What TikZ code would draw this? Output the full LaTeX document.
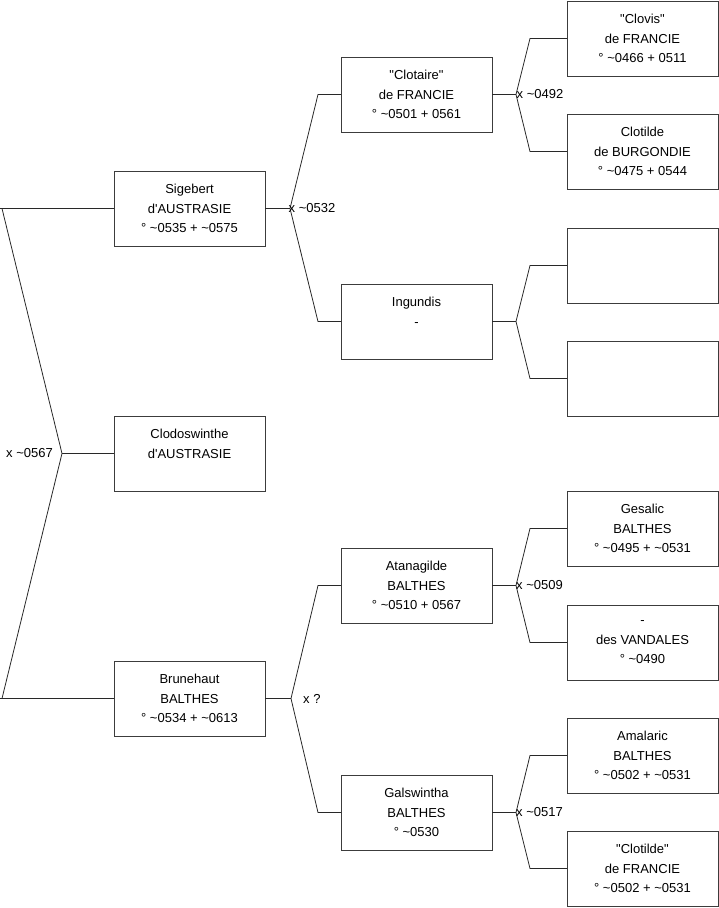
\documentclass[tikz,border=0pt]{standalone}
\usepackage{fontspec}
\setmainfont{Liberation Sans}
\usepackage{xcolor}
\usetikzlibrary{positioning, calc}
\definecolor{boxline}{RGB}{60, 60, 60}
\definecolor{linkline}{RGB}{40, 40, 40}
\newcommand{\dquo}{\textquotedbl}
\newcommand{\apos}{\textquotesingle}
\newcommand{\tld}{\textasciitilde}

\begin{document}
\begin{tikzpicture}[x=1pt, y=-1pt,
    person/.style={rectangle, draw=boxline, fill=white, line width=0.9pt,
                   minimum width=151pt, minimum height=75pt, inner sep=0pt,
                   outer sep=0pt, align=center,
                   font=\fontsize{13}{19.5}\selectfont},
    link/.style={draw=linkline, line width=0.8pt},
    union/.style={font=\fontsize{13}{15}\selectfont, inner sep=0pt, anchor=west}
]
\useasboundingbox (0,0) rectangle (719,908);

% Generation 1
\node[person] (sig)  at (189.5, 208.5) {Sigebert\\d\apos AUSTRASIE\\° \tld0535 + \tld0575};
\node[person] (clod) at (189.5, 453.5) {Clodoswinthe\\d\apos AUSTRASIE\\\mbox{}};
\node[person] (brun) at (189.5, 698.5) {Brunehaut\\BALTHES\\° \tld0534 + \tld0613};

% Generation 2
\node[person] (clot) at (416.5, 94.5)  {\dquo Clotaire\dquo\\de FRANCIE\\° \tld0501 + 0561};
\node[person] (ingu) at (416.5, 321.5) {Ingundis\\-\\\mbox{}};
\node[person] (atan) at (416.5, 585.5) {Atanagilde\\BALTHES\\° \tld0510 + 0567};
\node[person] (gals) at (416.5, 812.5) {Galswintha\\BALTHES\\° \tld0530};

% Generation 3
\node[person] (clov)  at (642.5, 38.5)  {\dquo Clovis\dquo\\de FRANCIE\\° \tld0466 + 0511};
\node[person] (cltb)  at (642.5, 151.5) {Clotilde\\de BURGONDIE\\° \tld0475 + 0544};
\node[person] (unk1)  at (642.5, 265.5) {};
\node[person] (unk2)  at (642.5, 378.5) {};
\node[person] (gesa)  at (642.5, 528.5) {Gesalic\\BALTHES\\° \tld0495 + \tld0531};
\node[person] (vand)  at (642.5, 642.5) {-\\des VANDALES\\° \tld0490};
\node[person] (amal)  at (642.5, 755.5) {Amalaric\\BALTHES\\° \tld0502 + \tld0531};
\node[person] (cltf)  at (642.5, 868.5) {\dquo Clotilde\dquo\\de FRANCIE\\° \tld0502 + \tld0531};

% Junctions
\coordinate (jclod) at (62, 453.5);
\coordinate (jsig)  at (290, 208.5);
\coordinate (jbrun) at (291, 698.5);
\coordinate (jclot) at (516, 94.5);
\coordinate (jingu) at (516, 321.5);
\coordinate (jatan) at (516, 585.5);
\coordinate (jgals) at (516, 812.5);

% Links: Clodoswinthe
\draw[link] (clod.west) -- (jclod);
\draw[link] (jclod) -- ($(sig.west -| 0,0)+(2,0)$) -- (sig.west -| 0,0) -- (sig.west);
\draw[link] (jclod) -- ($(brun.west -| 0,0)+(2,0)$) -- (brun.west -| 0,0) -- (brun.west);
\node[union, anchor=east] at ($(jclod)+(-9,0)$) {x \tld0567};

% Links: Sigebert
\draw[link] (sig.east) -- (jsig);
\draw[link] (jsig) -- ($(clot.west)+(-23,0)$) -- (clot.west);
\draw[link] (jsig) -- ($(ingu.west)+(-23,0)$) -- (ingu.west);
\node[union] at ($(jsig)+(-1.5,0)$) {x \tld0532};

% Links: Brunehaut
\draw[link] (brun.east) -- (jbrun);
\draw[link] (jbrun) -- ($(atan.west)+(-23,0)$) -- (atan.west);
\draw[link] (jbrun) -- ($(gals.west)+(-23,0)$) -- (gals.west);
\node[union] at ($(jbrun)+(12,0)$) {x ?};

% Links: Clotaire
\draw[link] (clot.east) -- (jclot);
\draw[link] (jclot) -- ($(clov.west)+(-37,0)$) -- (clov.west);
\draw[link] (jclot) -- ($(cltb.west)+(-37,0)$) -- (cltb.west);
\node[union] at ($(jclot)+(0.5,0)$) {x \tld0492};

% Links: Ingundis
\draw[link] (ingu.east) -- (jingu);
\draw[link] (jingu) -- ($(unk1.west)+(-37,0)$) -- (unk1.west);
\draw[link] (jingu) -- ($(unk2.west)+(-37,0)$) -- (unk2.west);

% Links: Atanagilde
\draw[link] (atan.east) -- (jatan);
\draw[link] (jatan) -- ($(gesa.west)+(-37,0)$) -- (gesa.west);
\draw[link] (jatan) -- ($(vand.west)+(-37,0)$) -- (vand.west);
\node[union] at ($(jatan)+(0,0)$) {x \tld0509};

% Links: Galswintha
\draw[link] (gals.east) -- (jgals);
\draw[link] (jgals) -- ($(amal.west)+(-37,0)$) -- (amal.west);
\draw[link] (jgals) -- ($(cltf.west)+(-37,0)$) -- (cltf.west);
\node[union] at ($(jgals)+(0,0)$) {x \tld0517};

\end{tikzpicture}
\end{document}
